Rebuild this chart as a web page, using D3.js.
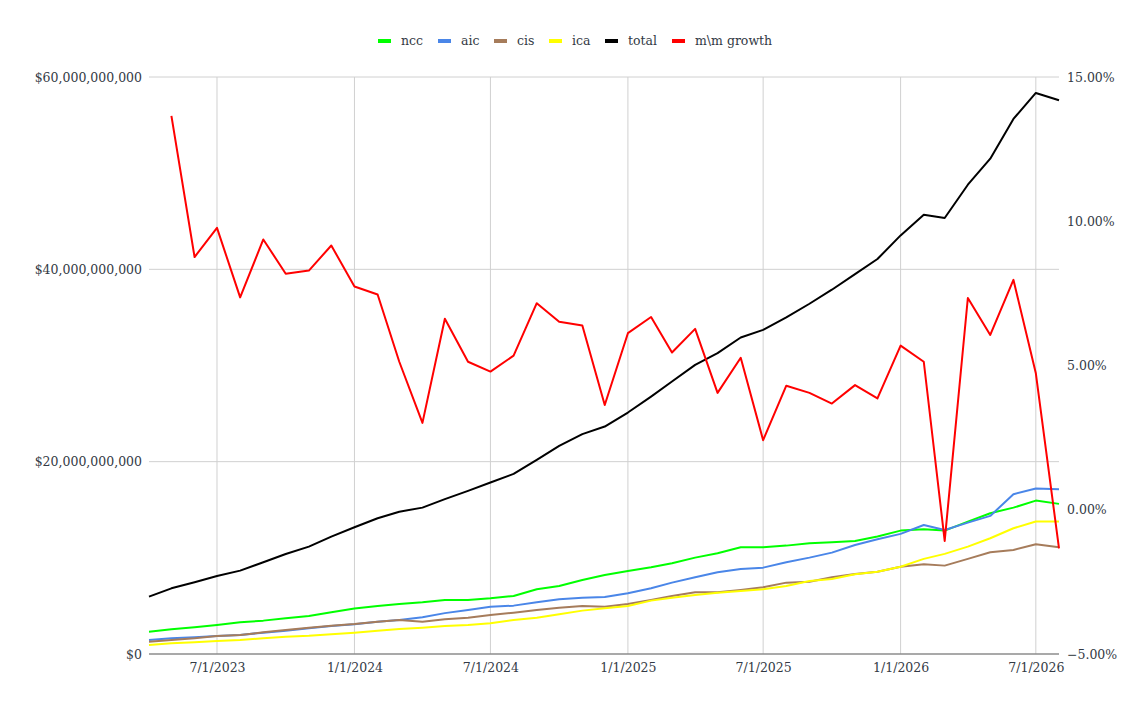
<!DOCTYPE html>
<html>
<head>
<meta charset="utf-8">
<script src="https://cdn.jsdelivr.net/npm/d3@7"></script>
<style>
  body { margin: 0; background: #fff; }
  svg text { font-family: "DejaVu Serif", "Liberation Serif", serif; fill: #333a45; }
</style>
</head>
<body>
<svg id="chart" width="1144" height="708"></svg>
<script>
// months, first of each month, 4/2023 -> 8/2026
var months = d3.timeMonth.range(new Date(2023, 3, 1), new Date(2026, 8, 1));

// values in billions of dollars
var ncc = [2.32, 2.57, 2.78, 3.02, 3.30, 3.47, 3.71, 3.95, 4.34, 4.72, 4.99, 5.20, 5.38, 5.62,
  5.62, 5.80, 6.04, 6.73, 7.08, 7.70, 8.22, 8.64, 9.02, 9.44, 10.02, 10.48, 11.10,
  11.10, 11.27, 11.52, 11.62, 11.76, 12.21, 12.83, 12.98, 12.83, 13.77, 14.64, 15.22, 15.95, 15.61];
var aic = [1.46, 1.63, 1.74, 1.87, 1.98, 2.22, 2.43, 2.67, 2.91, 3.09, 3.36, 3.54, 3.82, 4.25,
  4.58, 4.92, 5.03, 5.38, 5.69, 5.86, 5.93, 6.31, 6.83, 7.42, 7.98, 8.50, 8.84,
  8.98, 9.54, 10.02, 10.54, 11.34, 11.93, 12.49, 13.42, 12.90, 13.66, 14.36, 16.62, 17.20, 17.14];
var cis = [1.28, 1.46, 1.63, 1.87, 1.98, 2.25, 2.50, 2.74, 2.95, 3.12, 3.36, 3.54, 3.36, 3.61,
  3.78, 4.06, 4.30, 4.58, 4.82, 4.99, 4.92, 5.20, 5.62, 6.04, 6.42, 6.42, 6.66,
  6.94, 7.42, 7.52, 7.98, 8.32, 8.56, 9.08, 9.33, 9.19, 9.89, 10.58, 10.82, 11.41, 11.10];
var ica = [0.94, 1.11, 1.22, 1.35, 1.46, 1.63, 1.80, 1.90, 2.05, 2.22, 2.43, 2.60, 2.74, 2.91,
  3.02, 3.19, 3.54, 3.78, 4.13, 4.51, 4.76, 4.99, 5.55, 5.86, 6.14, 6.38, 6.56,
  6.73, 7.08, 7.60, 7.80, 8.29, 8.56, 9.08, 9.89, 10.41, 11.17, 12.04, 13.08, 13.77, 13.77];
var total = [5.96, 6.83, 7.46, 8.12, 8.67, 9.54, 10.40, 11.17, 12.20, 13.18, 14.12, 14.80, 15.22, 16.10,
  16.96, 17.83, 18.73, 20.19, 21.64, 22.86, 23.65, 25.11, 26.77, 28.34, 30.07, 31.29, 32.91,
  33.71, 35.00, 36.42, 37.88, 39.50, 41.07, 43.53, 45.68, 45.34, 48.80, 51.51, 55.64, 58.34, 57.58];
// month over month growth in %, starts at 5/2023
var growth = [null, 13.65, 8.76, 9.77, 7.36, 9.37, 8.18, 8.29, 9.16, 7.74, 7.46, 5.13, 3.01, 6.62,
  5.13, 4.79, 5.34, 7.16, 6.52, 6.39, 3.63, 6.12, 6.68, 5.45, 6.27, 4.05, 5.27,
  2.41, 4.30, 4.05, 3.68, 4.32, 3.86, 5.69, 5.13, -1.08, 7.34, 6.06, 7.97, 4.73, -1.34];

var leftTicks = [0, 20, 40, 60];
var rightTicks = [-5, 0, 5, 10, 15];
var xTicks = [new Date(2023, 6, 1), new Date(2024, 0, 1), new Date(2024, 6, 1), new Date(2025, 0, 1),
  new Date(2025, 6, 1), new Date(2026, 0, 1), new Date(2026, 6, 1)];

var seriesNames = ["ncc", "aic", "cis", "ica", "total", "m\\m growth"];
var seriesColors = ["#00ff00", "#4a86e8", "#a67c5b", "#ffff00", "#000000", "#ff0000"];
var seriesValues = [ncc, aic, cis, ica, total, growth];

var svg = d3.select("#chart");

var x = d3.scaleTime()
  .domain([months[0], months[months.length - 1]])
  .range([149, 1059]);
var y = d3.scaleLinear().domain([0, 60]).range([654, 77]);
var y2 = d3.scaleLinear().domain([-5, 15]).range([654, 77]);

// grille verticale
svg.append("g")
  .selectAll("line")
  .data(xTicks)
  .join("line")
    .attr("x1", d => x(d)).attr("x2", d => x(d))
    .attr("y1", 77).attr("y2", 654)
    .attr("stroke", "#d0d0d0").attr("stroke-width", 1);

// grille horizontale
svg.append("g")
  .selectAll("line")
  .data(leftTicks.filter(d => d > 0))
  .join("line")
    .attr("x1", 149).attr("x2", 1059)
    .attr("y1", d => y(d)).attr("y2", d => y(d))
    .attr("stroke", "#d0d0d0").attr("stroke-width", 1);

// axe gauche
var fmtMoney = d => "$" + d3.format(",")(d * 1e9);
var gLeft = svg.append("g")
  .attr("transform", "translate(149,0)")
  .call(d3.axisLeft(y).tickValues(leftTicks).tickSize(0).tickPadding(7).tickFormat(fmtMoney));
gLeft.select(".domain").remove();
gLeft.selectAll("text").attr("font-size", 12.5).attr("font-family", null);

// axe droit
var gRight = svg.append("g")
  .attr("transform", "translate(1059,0)")
  .call(d3.axisRight(y2).tickValues(rightTicks).tickSize(0).tickPadding(8).tickFormat(d => d3.format(".2f")(d) + "%"));
gRight.select(".domain").remove();
gRight.selectAll("text").attr("font-size", 12.5).attr("font-family", null);

// axe du bas
var gBottom = svg.append("g")
  .attr("transform", "translate(0,654)")
  .call(d3.axisBottom(x).tickValues(xTicks).tickSize(0).tickPadding(9).tickFormat(d3.timeFormat("%-m/%-d/%Y")));
gBottom.select(".domain").remove();
gBottom.selectAll("text").attr("font-size", 12.5).attr("font-family", null);

svg.append("line")
  .attr("x1", 149).attr("x2", 1059)
  .attr("y1", y(0)).attr("y2", y(0))
  .attr("stroke", "#8c8c8c").attr("stroke-width", 1.5);

// lignes
seriesValues.forEach((vals, i) => {
  var yy = i == 5 ? y2 : y;
  var line = d3.line()
    .defined(d => d != null)
    .x((d, j) => x(months[j]))
    .y(d => yy(d));
  svg.append("path")
    .datum(vals)
    .attr("fill", "none")
    .attr("stroke", seriesColors[i])
    .attr("stroke-width", 2)
    .attr("stroke-linejoin", "round")
    .attr("d", line);
});

// légende
var legendX = [378, 438, 494, 549, 605, 672];
var legend = svg.append("g")
  .selectAll("g")
  .data(seriesNames)
  .join("g")
    .attr("transform", (d, i) => `translate(${legendX[i]},41)`);
legend.append("rect")
  .attr("x", 0).attr("y", -2).attr("width", 13).attr("height", 4)
  .attr("fill", (d, i) => seriesColors[i]);
legend.append("text")
  .attr("x", 23).attr("y", 4)
  .attr("font-size", 12.5)
  .text(d => d);
</script>
</body>
</html>
